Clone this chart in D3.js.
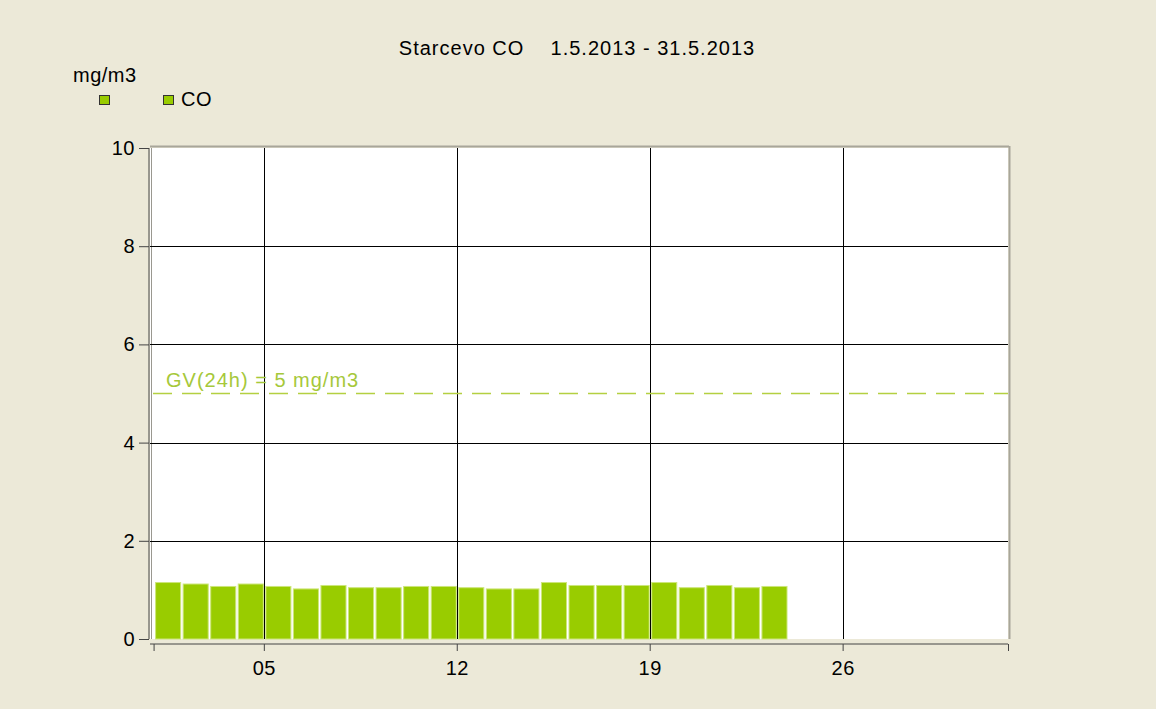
<!DOCTYPE html>
<html><head><meta charset="utf-8">
<script src="https://cdn.jsdelivr.net/npm/d3@7"></script>
<style>
html,body{margin:0;padding:0;background:#ece9d8;}
svg{display:block;font-family:Arial,"Liberation Sans",sans-serif;}
</style></head>
<body>
<script>
// Data: daily mean CO (mg/m3), Starcevo, May 2013
const days = d3.range(1, 24);
const coValues = [1.15,1.12,1.07,1.12,1.07,1.02,1.09,1.045,1.045,1.07,1.07,1.045,1.02,1.02,1.15,1.09,1.09,1.09,1.15,1.045,1.09,1.045,1.07];
const xTickDays = [5, 12, 19, 26];
const yTicks = [0, 2, 4, 6, 8, 10];
const limitValue = 5;
const titleText = "Starcevo CO    1.5.2013 - 31.5.2013";
const unitText = "mg/m3";
const seriesName = "CO";
const limitLabel = "GV(24h) = 5 mg/m3";

const W = 1156, H = 709;
const FONT = "Arial, 'Liberation Sans', sans-serif";
const svg = d3.select("body").append("svg").attr("width", W).attr("height", H);
svg.append("rect").attr("width", W).attr("height", H).attr("fill", "#ece9d8");

const pL = 150, pR = 1008, pT = 148, pB = 639;
const x = d3.scaleLinear().domain([0.87, 32]).range([pL, pR]);
const y = d3.scaleLinear().domain([0, 10]).range([pB, pT]);

// plot background with frame
svg.append("rect").attr("x", pL).attr("y", pT).attr("width", pR - pL).attr("height", pB - pT)
  .attr("fill", "#ffffff");
svg.append("line").attr("x1", pL).attr("x2", pR + 1).attr("y1", pT - 1.5).attr("y2", pT - 1.5).attr("stroke", "#a8a69a").attr("stroke-width", 2);
svg.append("line").attr("x1", pR + 1.5).attr("x2", pR + 1.5).attr("y1", pT - 2).attr("y2", pB).attr("stroke", "#a8a69a").attr("stroke-width", 2);
svg.append("line").attr("x1", pL + 1.5).attr("x2", pL + 1.5).attr("y1", pT).attr("y2", pB).attr("stroke", "#9a9890").attr("stroke-width", 1);

// grid
const grid = svg.append("g");
yTicks.filter(t => t > 0 && t < 10).forEach(t => {
  grid.append("line").attr("x1", pL).attr("x2", pR).attr("y1", Math.round(y(t)) + 0.5).attr("y2", Math.round(y(t)) + 0.5)
    .attr("stroke", "#000").attr("stroke-width", 1);
});
xTickDays.forEach(d => {
  grid.append("line").attr("x1", Math.round(x(d)) + 0.5).attr("x2", Math.round(x(d)) + 0.5).attr("y1", pT).attr("y2", pB)
    .attr("stroke", "#000").attr("stroke-width", 1);
});

// bars
svg.append("g").selectAll("rect").data(days).join("rect")
  .attr("x", d => x(d) + 2)
  .attr("width", d => x(d + 1) - x(d) - 2.5)
  .attr("y", (d, i) => y(coValues[i]))
  .attr("height", (d, i) => y(0) - y(coValues[i]))
  .attr("fill", "#99cc00")
  .attr("stroke", "#cde67a").attr("stroke-width", 1);

// limit line
svg.append("line").attr("x1", pL + 3).attr("x2", pR).attr("y1", y(limitValue)).attr("y2", y(limitValue))
  .attr("stroke", "#b4d041").attr("stroke-width", 1.5).attr("stroke-dasharray", "19,10");
svg.append("text").attr("x", 166).attr("y", y(limitValue) - 7).attr("fill", "#a6c83a")
  .attr("font-size", 20).attr("letter-spacing", 1).attr("font-family", FONT).text(limitLabel);

// y axis
const yAxis = d3.axisLeft(y).tickValues(yTicks).tickSize(10).tickPadding(4).tickFormat(d3.format("d"));
const gy = svg.append("g").attr("transform", `translate(${pL - 1},0)`).call(yAxis);
gy.select(".domain").attr("stroke", "#444").attr("d", `M0,${pT}V${pB}`);
gy.selectAll(".tick line").attr("stroke", "#444");
gy.selectAll("text").attr("font-size", 20).attr("letter-spacing", 0.5).attr("fill", "#000").attr("font-family", FONT);

// x axis
const xAxis = d3.axisBottom(x).tickValues([1].concat(xTickDays, [32])).tickSize(7).tickPadding(10)
  .tickFormat(d => xTickDays.includes(d) ? d3.format("02d")(d) : "");
const gx = svg.append("g").attr("transform", `translate(0,${pB + 5})`).call(xAxis);
gx.select(".domain").attr("stroke", "#444").attr("d", `M${pL},0H${pR}`);
gx.selectAll(".tick line").attr("stroke", "#444");
gx.selectAll("text").attr("font-size", 20).attr("letter-spacing", 0.5).attr("fill", "#000").attr("font-family", FONT);

// title
svg.append("text").attr("x", 577).attr("y", 55).attr("text-anchor", "middle").attr("font-size", 20)
  .attr("letter-spacing", 1).attr("font-family", FONT)
  .attr("xml:space", "preserve").style("white-space", "pre").text(titleText);

// unit and legend
svg.append("text").attr("x", 73).attr("y", 82).attr("font-size", 20).attr("letter-spacing", 0.5)
  .attr("font-family", FONT).text(unitText);
[99, 163].forEach(lx => {
  svg.append("rect").attr("x", lx + 0.5).attr("y", 95.5).attr("width", 10).attr("height", 9)
    .attr("fill", "#99cc00").attr("stroke", "#333").attr("stroke-width", 1);
});
svg.append("text").attr("x", 181).attr("y", 106).attr("font-size", 20).attr("letter-spacing", 0.5)
  .attr("font-family", FONT).text(seriesName);
</script>
</body></html>
